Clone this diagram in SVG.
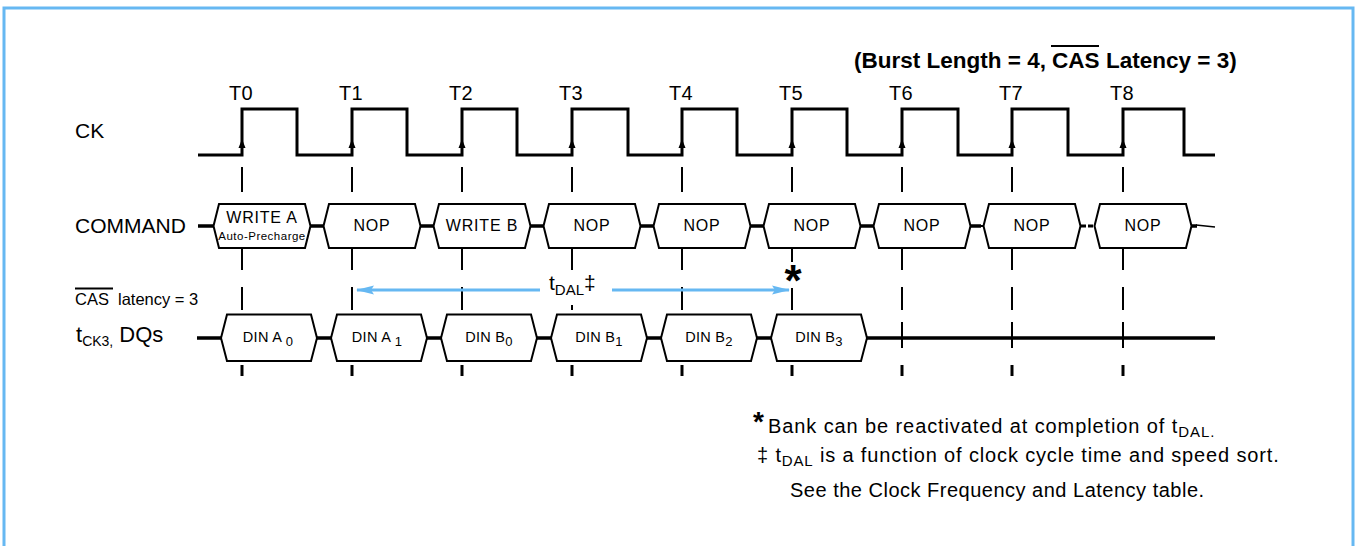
<svg xmlns="http://www.w3.org/2000/svg" width="1357" height="546" viewBox="0 0 1357 546">
<style>
text{font-family:"Liberation Sans",Arial,Helvetica,sans-serif;fill:#000}
.lbl{font-size:21px}
.tl{font-size:20px;text-anchor:middle;letter-spacing:0.3px}
.box{fill:#fff;stroke:#000;stroke-width:2;stroke-linejoin:miter}
.bus{stroke:#000;stroke-width:3.5;fill:none}
.tk{stroke:#000;stroke-width:2}
.tkb{stroke:#000;stroke-width:3}
.cmd{font-size:16px;text-anchor:middle;letter-spacing:0.8px}
.din{font-size:14.5px;text-anchor:middle;letter-spacing:0.3px}
.note{font-size:20px}
.ttl{font-size:22.5px;font-weight:bold}
.blue{stroke:#66b8f2;stroke-width:3;fill:none}
</style>
<defs>
<polygon id="cmdshape" class="box" points="-28.5,226 -23,204 63,204 68.5,226 63,248 -23,248"/>
<polygon id="dqshape" class="box" points="-21,338 -15,314.5 69,314.5 75,338 69,361 -15,361"/>
<path id="ckarrow" d="M-3.5,148 L3.5,148 L0,139 Z" fill="#000"/>
<g id="tickcommon">
<line class="tk" x1="0" y1="167" x2="0" y2="192"/>
<line class="tk" x1="0" y1="322" x2="0" y2="348"/>
<line class="tkb" x1="0" y1="365" x2="0" y2="376"/>
</g>
<g id="tickmid">
<line class="tk" x1="0" y1="248" x2="0" y2="270"/>
<line class="tk" x1="0" y1="287" x2="0" y2="310"/>
</g>
<marker id="arr" viewBox="0 0 18 10" refX="17" refY="5" markerWidth="18" markerHeight="10" markerUnits="userSpaceOnUse" orient="auto-start-reverse">
<path d="M0,0.5 L18,5 L0,9.5 L3,5 Z" fill="#66b8f2"/>
</marker>
</defs>

<rect id="frame" x="4" y="8" width="1349" height="600" fill="none" stroke="#66b8f2" stroke-width="3"/>

<g id="title">
<text class="ttl" x="1046" y="68" text-anchor="end">(Burst Length = 4,</text>
<text class="ttl" x="1052" y="68">CAS</text>
<line x1="1051" y1="46" x2="1099" y2="46" stroke="#000" stroke-width="2"/>
<text class="ttl" x="1106" y="68">Latency = 3)</text>
</g>

<g id="labels">
<text class="lbl" x="75" y="138">CK</text>
<text class="lbl" x="75" y="233" font-size="23">COMMAND</text>
<text x="75" y="305" font-size="16.5">CAS</text>
<line x1="75" y1="288.5" x2="113" y2="288.5" stroke="#000" stroke-width="2"/>
<text x="118" y="305" font-size="16.5">latency = 3</text>
<text x="76" y="342" font-size="22">t<tspan font-size="14" dy="4">CK3,</tspan><tspan dy="-4"> DQs</tspan></text>
</g>

<g id="clock">
<path d="M198,155 H242 V109 H297 V155 H352 V109 H407 V155 H462 V109 H517 V155 H572 V109 H628 V155 H682 V109 H737 V155 H792 V109 H847 V155 H902 V109 H958 V155 H1012 V109 H1068 V155 H1123 V109 H1184 V155 H1215" fill="none" stroke="#000" stroke-width="3" stroke-linejoin="miter"/>
<use href="#ckarrow" x="242"/><use href="#ckarrow" x="352"/><use href="#ckarrow" x="462"/>
<use href="#ckarrow" x="572"/><use href="#ckarrow" x="682"/><use href="#ckarrow" x="792"/>
<use href="#ckarrow" x="902"/><use href="#ckarrow" x="1012"/><use href="#ckarrow" x="1123"/>
<text class="tl" x="241" y="100">T0</text>
<text class="tl" x="351" y="100">T1</text>
<text class="tl" x="461" y="100">T2</text>
<text class="tl" x="571" y="100">T3</text>
<text class="tl" x="681" y="100">T4</text>
<text class="tl" x="791" y="100">T5</text>
<text class="tl" x="901" y="100">T6</text>
<text class="tl" x="1011" y="100">T7</text>
<text class="tl" x="1122" y="100">T8</text>
</g>

<g id="connectors">
<g id="ticks">
<use href="#tickcommon" x="242"/><use href="#tickcommon" x="352"/><use href="#tickcommon" x="462"/>
<use href="#tickcommon" x="572"/><use href="#tickcommon" x="682"/><use href="#tickcommon" x="792"/>
<use href="#tickcommon" x="902"/><use href="#tickcommon" x="1012"/><use href="#tickcommon" x="1123"/>
<use href="#tickmid" x="242"/><use href="#tickmid" x="352"/><use href="#tickmid" x="462"/>
<use href="#tickmid" x="682"/>
<use href="#tickmid" x="902"/><use href="#tickmid" x="1012"/><use href="#tickmid" x="1123"/>
<line class="tk" x1="572" y1="248" x2="572" y2="270"/>
<line class="tk" x1="572" y1="305" x2="572" y2="310"/>
<line class="tk" x1="792" y1="248" x2="792" y2="262"/>
<line class="tk" x1="792" y1="288" x2="792" y2="310"/>
</g>
<g id="cmdbus">
<path class="bus" d="M198,226 H214 M310,226 H324 M420,226 H434 M530,226 H544 M640,226 H654 M750,226 H764 M860,226 H874 M970,226 H981 M1191,226 H1197"/>
<path d="M980,226 H985" stroke="#000" stroke-width="2"/>
<path d="M1081,226 H1096" stroke="#000" stroke-width="3" stroke-dasharray="5,2"/>
<path d="M1196,225 L1215,227" stroke="#000" stroke-width="1.5" fill="none"/>
</g>
<g id="dqbus">
<path class="bus" d="M197,338 H221 M317,338 H331 M427,338 H441 M537,338 H551 M647,338 H661 M757,338 H771 M867,338 H1215"/>
</g>
<g id="tdal-arrow">
<path class="blue" d="M357,290 H540" marker-start="url(#arr)"/>
<path class="blue" d="M612,290 H789" marker-end="url(#arr)"/>
<text x="549" y="290" font-size="21">t<tspan font-size="15" dy="5">DAL</tspan><tspan dy="-5" font-size="21">‡</tspan></text>
<text x="793" y="296" font-size="44" font-weight="bold" text-anchor="middle">*</text>
</g>
</g>

<g id="cmd-t0"><use href="#cmdshape" x="242"/><text class="cmd" x="262" y="223">WRITE A</text><text x="262" y="239.5" font-size="11.5" text-anchor="middle" letter-spacing="0.5">Auto-Precharge</text></g>
<g id="cmd-t1"><use href="#cmdshape" x="352"/><text class="cmd" x="372" y="231">NOP</text></g>
<g id="cmd-t2"><use href="#cmdshape" x="462"/><text class="cmd" x="482" y="231">WRITE B</text></g>
<g id="cmd-t3"><use href="#cmdshape" x="572"/><text class="cmd" x="592" y="231">NOP</text></g>
<g id="cmd-t4"><use href="#cmdshape" x="682"/><text class="cmd" x="702" y="231">NOP</text></g>
<g id="cmd-t5"><use href="#cmdshape" x="792"/><text class="cmd" x="812" y="231">NOP</text></g>
<g id="cmd-t6"><use href="#cmdshape" x="902"/><text class="cmd" x="922" y="231">NOP</text></g>
<g id="cmd-t7"><use href="#cmdshape" x="1012"/><text class="cmd" x="1032" y="231">NOP</text></g>
<g id="cmd-t8"><use href="#cmdshape" x="1123"/><text class="cmd" x="1143" y="231">NOP</text></g>

<g id="dq-t0"><use href="#dqshape" x="242"/><text class="din" x="268" y="342">DIN A <tspan font-size="13" dy="4">0</tspan></text></g>
<g id="dq-t1"><use href="#dqshape" x="352"/><text class="din" x="377" y="342">DIN A <tspan font-size="13" dy="4">1</tspan></text></g>
<g id="dq-t2"><use href="#dqshape" x="462"/><text class="din" x="489" y="342">DIN B<tspan font-size="13" dy="4">0</tspan></text></g>
<g id="dq-t3"><use href="#dqshape" x="572"/><text class="din" x="599" y="342">DIN B<tspan font-size="13" dy="4">1</tspan></text></g>
<g id="dq-t4"><use href="#dqshape" x="682"/><text class="din" x="709" y="342">DIN B<tspan font-size="13" dy="4">2</tspan></text></g>
<g id="dq-t5"><use href="#dqshape" x="792"/><text class="din" x="819" y="342">DIN B<tspan font-size="13" dy="4">3</tspan></text></g>

<g id="notes">
<text x="753" y="431" font-size="28" font-weight="bold">*</text>
<text class="note" x="768" y="433" letter-spacing="0.9">Bank can be reactivated at completion of t<tspan font-size="15" dy="4">DAL.</tspan></text>
<text class="note" x="757" y="462" letter-spacing="0.85">‡ t<tspan font-size="15" dy="4">DAL</tspan><tspan dy="-4"> is a function of clock cycle time and speed sort.</tspan></text>
<text class="note" x="790" y="497" letter-spacing="0.5">See the Clock Frequency and Latency table.</text>
</g>
</svg>
